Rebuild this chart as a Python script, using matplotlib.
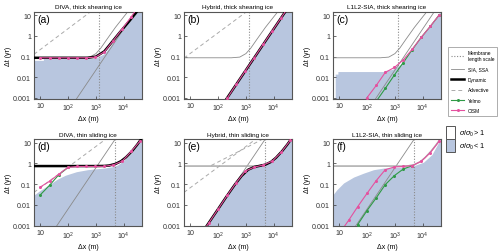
import numpy as np
import matplotlib.pyplot as plt
from matplotlib.lines import Line2D
from matplotlib.patches import Rectangle

plt.rcParams['font.family'] = ['Liberation Sans', 'DejaVu Sans']
plt.rcParams['mathtext.fontset'] = 'custom'
plt.rcParams['mathtext.rm'] = 'Liberation Sans'
plt.rcParams['mathtext.it'] = 'Liberation Sans:italic'

BLUE = '#b8c6df'
PINK = '#e4519f'
GREEN = '#2f9a46'
GRAY = '#8a8a8a'
EDGE = '#555555'

titles = ['DIVA, thick shearing ice', 'Hybrid, thick shearing ice', 'L1L2-SIA, thick shearing ice',
          'DIVA, thin sliding ice', 'Hybrid, thin sliding ice', 'L1L2-SIA, thin sliding ice']
letters = ['(a)', '(b)', '(c)', '(d)', '(e)', '(f)']

# membrane length scale (m)
membrane_top = 1250
membrane_bot = 5000

# resolutions of the model runs (m)
dx_runs = [10, 22, 46, 100, 215, 450, 960, 2000, 4200, 8800, 18500, 39000]

# SIA limit (straight line)
sia_top_x = [200, 45000]
sia_top_y = [0.0009, 45]
sia_bot_x = [38, 45000]
sia_bot_y = [0.0009, 1260]

# SSA limit
ssa_top_x = [6, 300, 600, 1000, 1500, 2500, 5000, 10000, 14000, 20000]
ssa_top_y = [0.088, 0.088, 0.095, 0.14, 0.26, 0.7, 2.6, 8.5, 15, 30]
ssa_bot_x = [6, 1000, 2000, 3000, 5000, 8000, 12000, 20000, 30000, 42000]
ssa_bot_y = [0.75, 0.75, 0.75, 0.77, 0.88, 1.2, 1.9, 4.0, 8.0, 15]

# advective limit
adv_a_x = [6, 650]
adv_a_y = [0.13, 15]
adv_b_x = [6, 1060]
adv_b_y = [0.085, 15]
adv_d_x = [6, 2250]
adv_d_y = [0.04, 15]
adv_e_x = [57, 4000]
adv_e_y = [0.8, 15]

# dynamic limit
dyn_a_x = [6, 500, 1000, 2000, 3000, 6600, 14800, 29000, 35000]
dyn_a_y = [0.088, 0.088, 0.1, 0.18, 0.35, 1.3, 4.7, 14.5, 20]
dyn_d_x = [6, 100, 500, 1000, 2000, 3000, 5000, 8000, 12000, 20000, 30000, 42000]
dyn_d_y = [0.75, 0.75, 0.75, 0.75, 0.76, 0.8, 0.95, 1.3, 2.0, 4.0, 8, 15]
dyn_e_x = [38, 100, 200, 400, 700, 1200, 2000, 3000, 5000, 8000, 12000, 20000, 30000, 42000, 50000]
dyn_e_y = [0.0009, 0.0062, 0.025, 0.095, 0.25, 0.5, 0.68, 0.76, 0.88, 1.2, 1.9, 4.0, 8, 15, 20]

# CISM
cism_a_y = [0.088, 0.088, 0.088, 0.088, 0.088, 0.088, 0.095, 0.17, 0.6, 2.2, 8.5, 35]
cism_b_y = [None, None, None, 0.0002, 0.0010, 0.0046, 0.021, 0.09, 0.4, 1.75, 7.7, 34]
cism_c_y = [None, None, 0.0002, 0.00104, 0.0041, 0.0172, 0.03, 0.07, 0.23, 0.86, 2.9, 10.5]
cism_d_y = [0.072, 0.14, 0.3, 0.65, 0.72, 0.72, 0.72, 0.73, 0.85, 1.3, 3.8, 12.5]
cism_e_y = [None, 0.0003, 0.0013, 0.0062, 0.029, 0.12, 0.43, 0.67, 0.84, 1.3, 3.5, 13]
cism_f_y = [0.0004, 0.0018, 0.0081, 0.036, 0.15, 0.5, 0.68, 0.72, 0.79, 1.28, 3.3, 12]

# Yelmo
yelmo_c_y = [None, None, None, None, 0.0007, 0.0029, 0.013, 0.052, 0.22, 0.86, 2.9, 10.5]
yelmo_d_y = [0.03, 0.09, 0.28, 0.64, None, None, None, None, None, None, None, None]
yelmo_f_y = [None, None, 0.0011, 0.0053, 0.022, 0.095, 0.26, 0.54, 0.78, None, None, None]

# sigma/sigma0 < 1 region (upper boundary)
blue_a_x = [6, 13, 13, 600, 1000, 2000, 3000, 6000, 14000, 30000, 45000]
blue_a_y = [0.066, 0.066, 0.08, 0.08, 0.085, 0.14, 0.28, 1.0, 4.2, 15, 30]
blue_c_x = [7.2, 7.2, 9, 9, 400, 400, 800, 1500, 2000, 4000, 8500, 18500, 45000]
blue_c_y = [0.0001, 0.0143, 0.0143, 0.019, 0.019, 0.021, 0.024, 0.04, 0.065, 0.23, 0.9, 3.0, 18]
blue_d_x = [6, 10, 20, 40, 80, 200, 500, 1000, 2000, 4000, 6000, 10000, 20000, 45000]
blue_d_y = [0.03, 0.05, 0.09, 0.17, 0.27, 0.4, 0.5, 0.55, 0.6, 0.7, 0.85, 1.4, 3.5, 17]
blue_f_x = [6, 8.3, 14.4, 33, 75, 171, 390, 1000, 2000, 4400, 10600, 21300, 45000]
blue_f_y = [0.031, 0.054, 0.114, 0.22, 0.34, 0.5, 0.6, 0.65, 0.68, 0.75, 1.15, 2.7, 17]


def series(y):
    return np.array([np.nan if v is None else v for v in y], dtype=float)


def setup(ax, title, letter, membrane):
    ax.set_xscale('log')
    ax.set_yscale('log')
    ax.set_xlim(6, 45000)
    ax.set_ylim(0.0009, 15)
    ax.set_xticks([10, 100, 1000, 10000])
    ax.set_xticklabels(['10', r'$10^2$', r'$10^3$', r'$10^4$'])
    ax.set_yticks([0.001, 0.01, 0.1, 1, 10])
    ax.set_yticklabels(['0.001', '0.01', '0.1', '1', '10'])
    ax.minorticks_off()
    ax.tick_params(labelsize=5.1, direction='in', length=2, width=0.5, pad=2, colors='#333333')
    ax.set_xlabel('Δx (m)', fontsize=5, labelpad=1.5)
    ax.set_ylabel('Δt (yr)', fontsize=5, labelpad=1)
    ax.set_title(title, fontsize=4.6, pad=2.5)
    for s in ax.spines.values():
        s.set_color(EDGE)
        s.set_linewidth(0.8)
    ax.axvline(membrane, color=GRAY, ls=(0, (1, 1.5)), lw=0.8, zorder=2)
    ax.text(0.03, 0.975, letter, transform=ax.transAxes, ha='left', va='top', fontsize=7.5)


def fill(ax, x, y):
    ax.fill_between(x, 1e-5, y, color=BLUE, lw=0, zorder=0)


def thin(ax, x, y):
    ax.plot(x, y, color=GRAY, lw=0.6, zorder=2)


def adv(ax, x, y):
    ax.plot(x, y, color='#aaaaaa', lw=0.7, ls=(0, (4, 3)), zorder=2)


def dyn(ax, x, y):
    ax.plot(x, y, color='black', lw=1.8, zorder=3)


def cism(ax, y):
    ax.plot(dx_runs, series(y), color=PINK, lw=0.8, marker='o', ms=2.2, mew=0, zorder=5)


def yelmo(ax, y):
    ax.plot(dx_runs, series(y), color=GREEN, lw=0.8, marker='o', ms=2.2, mew=0, zorder=4)


fig = plt.figure(figsize=(5, 2.53), dpi=100)
lefts = [0.068, 0.368, 0.666]
w = 0.216
axs = []
for row, y0 in enumerate([0.605, 0.101]):
    for col in range(3):
        axs.append(fig.add_axes([lefts[col], y0, w, 0.345]))

for i, ax in enumerate(axs):
    setup(ax, titles[i], letters[i], membrane_top if i < 3 else membrane_bot)

# (a)
ax = axs[0]
fill(ax, blue_a_x, blue_a_y)
thin(ax, sia_top_x, sia_top_y)
thin(ax, ssa_top_x, ssa_top_y)
adv(ax, adv_a_x, adv_a_y)
dyn(ax, dyn_a_x, dyn_a_y)
cism(ax, cism_a_y)

# (b)
ax = axs[1]
fill(ax, sia_top_x, sia_top_y)
thin(ax, ssa_top_x, ssa_top_y)
adv(ax, adv_b_x, adv_b_y)
dyn(ax, sia_top_x, sia_top_y)
cism(ax, cism_b_y)

# (c)
ax = axs[2]
fill(ax, blue_c_x, blue_c_y)
thin(ax, sia_top_x, sia_top_y)
thin(ax, ssa_top_x, ssa_top_y)
yelmo(ax, yelmo_c_y)
cism(ax, cism_c_y)

# (d)
ax = axs[3]
fill(ax, blue_d_x, blue_d_y)
thin(ax, sia_bot_x, sia_bot_y)
thin(ax, ssa_bot_x, ssa_bot_y)
adv(ax, adv_d_x, adv_d_y)
dyn(ax, dyn_d_x, dyn_d_y)
yelmo(ax, yelmo_d_y)
cism(ax, cism_d_y)

# (e)
ax = axs[4]
fill(ax, dyn_e_x, dyn_e_y)
thin(ax, sia_bot_x, sia_bot_y)
ax.plot(ssa_bot_x, ssa_bot_y, color='#aaaaaa', lw=1.1, zorder=2)
adv(ax, adv_d_x, adv_d_y)
adv(ax, adv_e_x, adv_e_y)
dyn(ax, dyn_e_x, dyn_e_y)
cism(ax, cism_e_y)

# (f)
ax = axs[5]
fill(ax, blue_f_x, blue_f_y)
thin(ax, sia_bot_x, sia_bot_y)
ax.plot(ssa_bot_x, ssa_bot_y, color='#aaaaaa', lw=1.1, zorder=2)
yelmo(ax, yelmo_f_y)
cism(ax, cism_f_y)

# line legend
handles = [
    Line2D([], [], color=GRAY, ls=(0, (1, 1.5)), lw=0.8),
    Line2D([], [], color=GRAY, lw=0.6),
    Line2D([], [], color='black', lw=1.8),
    Line2D([], [], color='#aaaaaa', lw=0.7, ls=(0, (4, 3))),
    Line2D([], [], color=GREEN, lw=0.8, marker='o', ms=2.2, mew=0),
    Line2D([], [], color=PINK, lw=0.8, marker='o', ms=2.2, mew=0),
]
labels = ['Membrane\nlength scale', 'SIA, SSA', 'Dynamic', 'Advective', 'Yelmo', 'CISM']
leg = fig.legend(handles, labels, loc='upper left', bbox_to_anchor=(0.892, 0.818),
                 fontsize=3.5, frameon=True, fancybox=False, edgecolor='#888888',
                 handlelength=2.6, labelspacing=1.1, borderpad=0.6, handletextpad=0.8)
leg.get_frame().set_linewidth(0.6)

# stress legend
fig.patches.append(Rectangle((0.892, 0.4466), 0.018, 0.0514, transform=fig.transFigure,
                             facecolor='white', edgecolor=EDGE, lw=0.7))
fig.patches.append(Rectangle((0.892, 0.395), 0.018, 0.0514, transform=fig.transFigure,
                             facecolor=BLUE, edgecolor=EDGE, lw=0.7))
fig.text(0.918, 0.472, r'$\sigma/\sigma_0 > 1$', fontsize=5.2, va='center', ha='left')
fig.text(0.918, 0.421, r'$\sigma/\sigma_0 < 1$', fontsize=5.2, va='center', ha='left')

fig.savefig('out.png', dpi=100)
